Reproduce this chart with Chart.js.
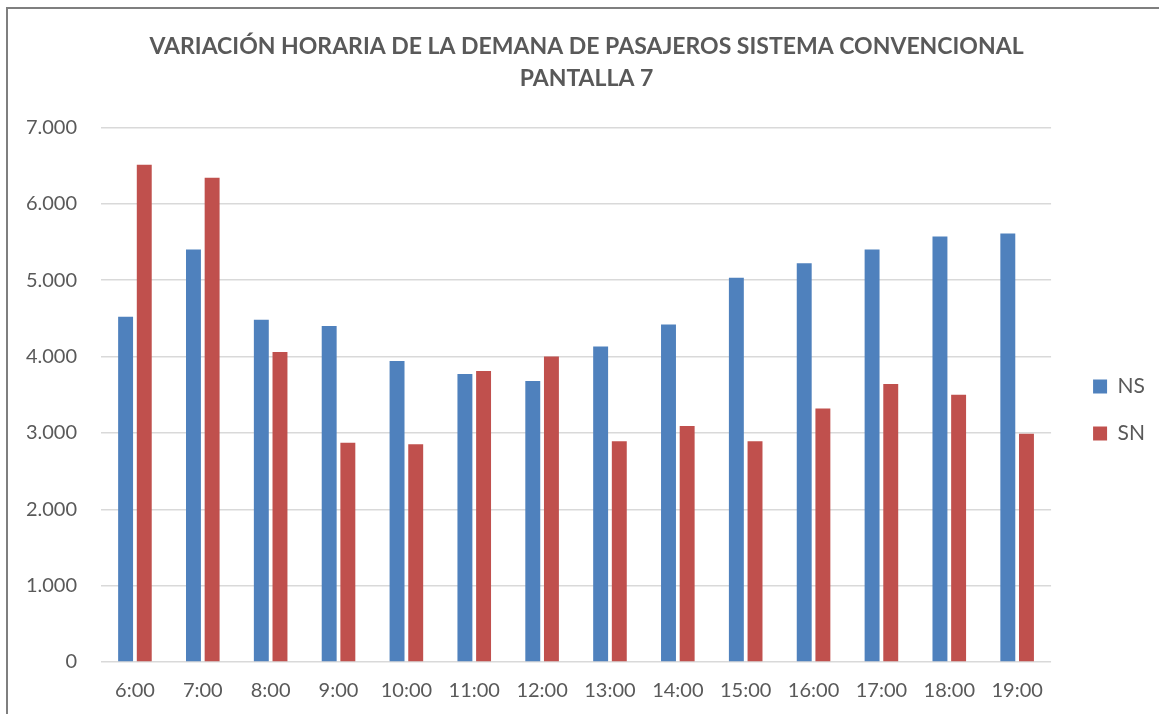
<!DOCTYPE html>
<html>
<head>
<meta charset="utf-8">
<script src="https://cdn.jsdelivr.net/npm/chart.js@4/dist/chart.umd.min.js"></script>
<style>
  html, body { margin: 0; padding: 0; background: #fff; overflow: hidden; }
  #wrap { position: relative; width: 1159px; height: 714px; }
  #frame { position: absolute; left: 6px; top: 7px; width: 1200px; height: 800px;
           border-top: 2px solid #7f7f7f; border-left: 2px solid #7f7f7f; pointer-events: none; }
</style>
</head>
<body>
<div id="wrap">
  <canvas id="barChart" width="1159" height="714"></canvas>
  <div id="frame"></div>
</div>
<script>
// données
const horas = ['6:00','7:00','8:00','9:00','10:00','11:00','12:00','13:00','14:00','15:00','16:00','17:00','18:00','19:00'];
const ns = [4520, 5400, 4480, 4400, 3940, 3770, 3680, 4130, 4420, 5030, 5220, 5400, 5570, 5610];
const sn = [6510, 6340, 4060, 2870, 2850, 3810, 4000, 2890, 3090, 2890, 3320, 3640, 3500, 2990];
const titulo = ['VARIACIÓN HORARIA DE LA DEMANA DE PASAJEROS SISTEMA CONVENCIONAL', 'PANTALLA 7'];

const gris = '#595959';

// décaler la légende et le titre comme dans l'original
const moveBoxes = {
  id: 'moveBoxes',
  afterLayout(chart) {
    chart.legend.left += 16;
    chart.legend.right += 16;
    chart.legend.top += 54;
    chart.legend.bottom += 54;
    chart.titleBlock.left += 17;
    chart.titleBlock.right += 17;
  }
};

new Chart(document.querySelector('#barChart'), {
  type: 'bar',
  data: {
    labels: horas,
    datasets: [{
      label: 'NS',
      data: ns,
      backgroundColor: '#4F81BD',
      borderWidth: 0,
      categoryPercentage: 0.55,
      barPercentage: 0.8
    }, {
      label: 'SN',
      data: sn,
      backgroundColor: '#C0504D',
      borderWidth: 0,
      categoryPercentage: 0.55,
      barPercentage: 0.8
    }]
  },
  options: {
    responsive: false,
    animation: false,
    layout: { padding: { left: 0, right: 20, top: 0, bottom: 2 } },
    plugins: {
      title: {
        display: true,
        text: titulo,
        color: gris,
        font: { family: 'Lato', size: 23, weight: 'bold', lineHeight: 1.4 },
        padding: { top: 30, bottom: 33 }
      },
      legend: {
        position: 'right',
        labels: {
          boxWidth: 14,
          boxHeight: 14,
          padding: 26,
          color: gris,
          font: { family: 'Lato', size: 21 }
        }
      },
      tooltip: { enabled: false }
    },
    scales: {
      x: {
        grid: { display: false },
        border: { display: false },
        ticks: {
          color: gris,
          font: { family: 'Lato', size: 20 },
          padding: 9,
          maxRotation: 0
        }
      },
      y: {
        min: 0,
        max: 7000,
        afterFit: function(axis) { axis.width = 101; },
        grid: { color: '#d9d9d9', lineWidth: 1.5, drawTicks: false },
        border: { display: false },
        ticks: {
          stepSize: 1000,
          color: gris,
          font: { family: 'Lato', size: 20 },
          padding: 24,
          callback: function(v) {
            return String(v).replace(/\B(?=(\d{3})+(?!\d))/g, '.');
          }
        }
      }
    }
  },
  plugins: [moveBoxes]
});
</script>
</body>
</html>
